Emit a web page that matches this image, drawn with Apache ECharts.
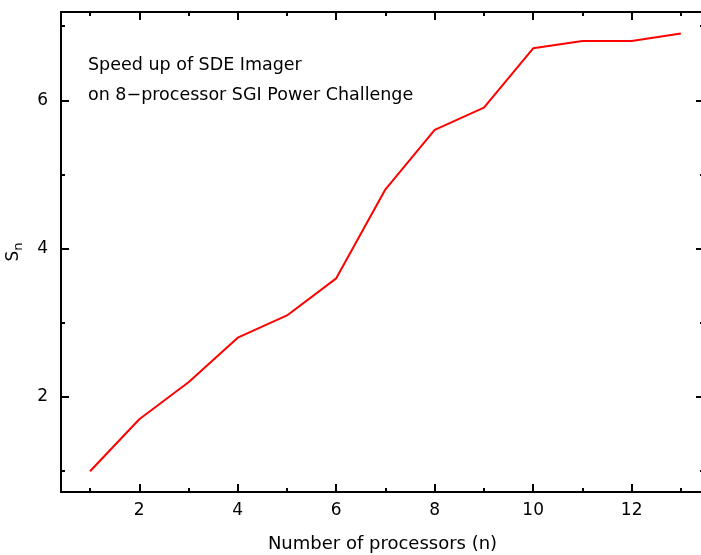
<!DOCTYPE html>
<html>
<head>
<meta charset="utf-8">
<script src="https://cdn.jsdelivr.net/npm/echarts@6/dist/echarts.min.js"></script>
<style>
  html, body { margin: 0; padding: 0; background: #fff; }
  #chart { width: 701px; height: 555px; }
</style>
</head>
<body>
<div id="chart"></div>
<script>
// data
var processors = [1, 2, 3, 4, 5, 6, 7, 8, 9, 10, 11, 12, 13];
var speedup = [1.0, 1.7, 2.2, 2.8, 3.1, 3.6, 4.8, 5.6, 5.9, 6.7, 6.8, 6.8, 6.9];
var xMajorTicks = [2, 4, 6, 8, 10, 12];
var xMinorTicks = [1, 3, 5, 7, 9, 11, 13];
var yMajorTicks = [2, 4, 6];
var yMinorTicks = [1, 3, 5, 7];
var noteLines = ['Speed up of SDE Imager', 'on 8\u2212processor SGI Power Challenge'];

var FONT = 'DejaVu Sans';
var X_MIN = 0.41, X_MAX = 13.47;
var Y_MIN = 0.72, Y_MAX = 7.19;

function xAx(pos, ticks, len, labels, line) {
  return {
    type: 'value', position: pos, min: X_MIN, max: X_MAX,
    axisLine: { show: line, onZero: false, lineStyle: { color: '#000', width: 2 } },
    axisTick: { show: true, inside: true, length: len, customValues: ticks, lineStyle: { color: '#000', width: 2 } },
    axisLabel: labels ? { show: true, customValues: ticks, color: '#000', fontFamily: FONT, fontSize: 17, margin: 10 } : { show: false },
    splitLine: { show: false }
  };
}
function yAx(pos, ticks, len, labels, line) {
  return {
    type: 'value', position: pos, min: Y_MIN, max: Y_MAX,
    axisLine: { show: line, onZero: false, lineStyle: { color: '#000', width: 2 } },
    axisTick: { show: true, inside: true, length: len, customValues: ticks, lineStyle: { color: '#000', width: 2 } },
    axisLabel: labels ? { show: true, customValues: ticks, color: '#000', fontFamily: FONT, fontSize: 17, margin: 13 } : { show: false },
    splitLine: { show: false }
  };
}

var xAxes = [
  xAx('bottom', xMajorTicks, 8, true, true),
  xAx('bottom', xMinorTicks, 4, false, false),
  xAx('top', xMajorTicks, 8, false, true),
  xAx('top', xMinorTicks, 4, false, false)
];
xAxes[0].name = 'Number of processors (n)';
xAxes[0].nameLocation = 'middle';
xAxes[0].nameGap = 43;
xAxes[0].nameTextStyle = { color: '#000', fontFamily: FONT, fontSize: 18 };

var yAxes = [
  yAx('left', yMajorTicks, 8, true, true),
  yAx('left', yMinorTicks, 4, false, false),
  yAx('right', yMajorTicks, 8, false, true),
  yAx('right', yMinorTicks, 4, false, false)
];
yAxes[0].name = '{s|S}{sub|n}';
yAxes[0].nameLocation = 'middle';
yAxes[0].nameRotate = 90;
yAxes[0].nameGap = 36;
yAxes[0].nameTextStyle = {
  color: '#000', fontFamily: FONT, fontSize: 17,
  rich: {
    s: { fontFamily: FONT, fontSize: 17, color: '#000' },
    sub: { fontFamily: FONT, fontSize: 13, color: '#000', verticalAlign: 'bottom', padding: [10, 0, 0, 0] }
  }
};

var chart = echarts.init(document.getElementById('chart'));
chart.setOption({
  animation: false,
  backgroundColor: '#fff',
  grid: { left: 61, top: 12, width: 643, height: 480, containLabel: false, outerBoundsMode: 'none' },
  xAxis: xAxes,
  yAxis: yAxes,
  graphic: noteLines.map(function (t, i) {
    return {
      type: 'text', left: 88, top: 56 + i * 30,
      style: { text: t, fill: '#000', font: '17.5px "' + FONT + '"' }
    };
  }),
  series: [{
    type: 'line',
    xAxisIndex: 0,
    yAxisIndex: 0,
    data: processors.map(function (p, i) { return [p, speedup[i]]; }),
    showSymbol: false,
    lineStyle: { color: '#ff0000', width: 2 },
    itemStyle: { color: '#ff0000' }
  }]
});
</script>
</body>
</html>
